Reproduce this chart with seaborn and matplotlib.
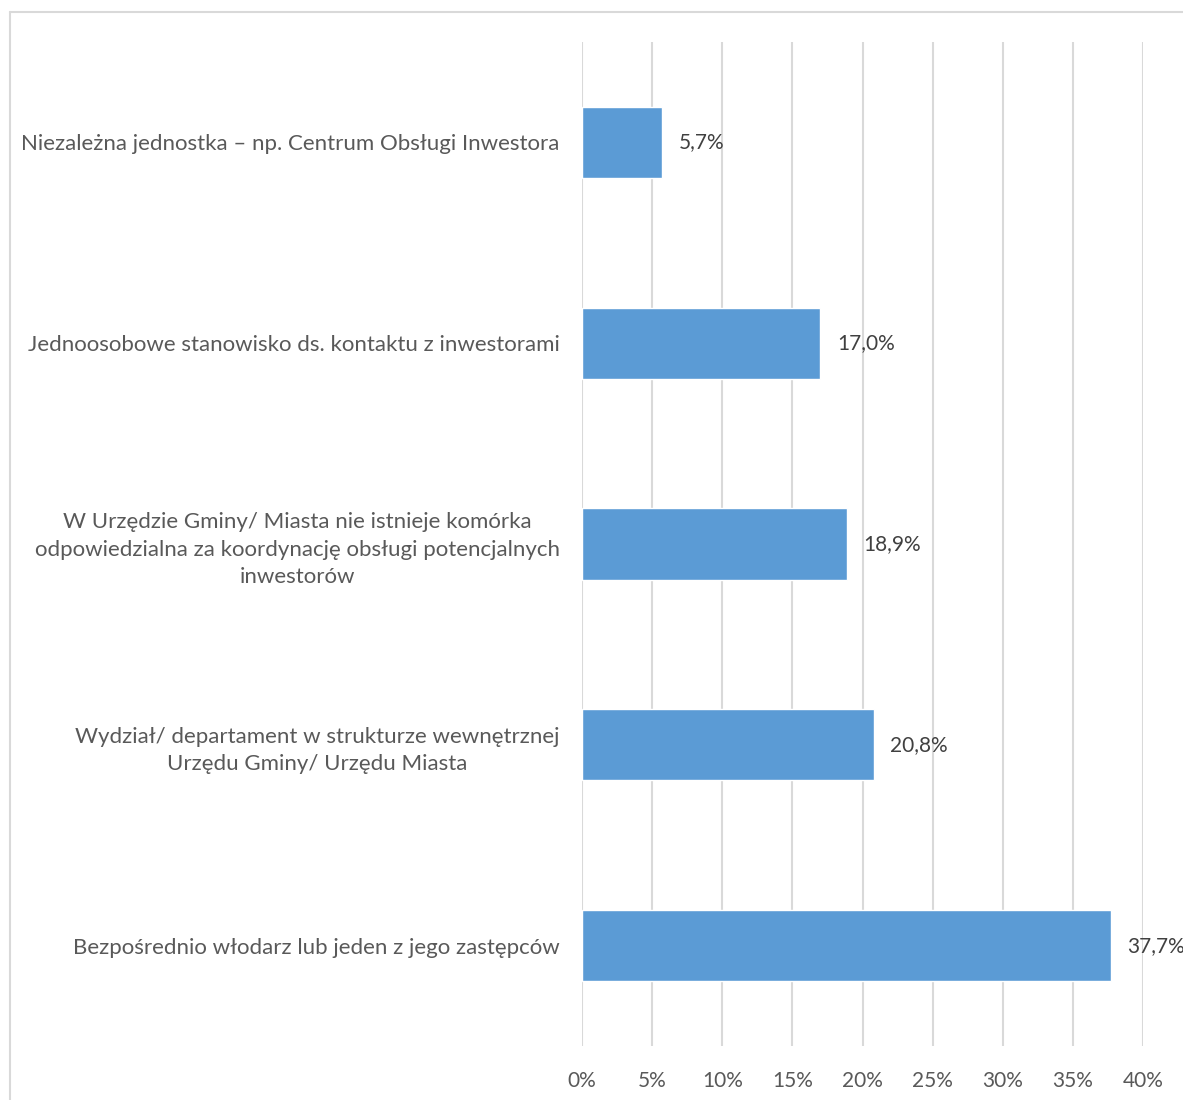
import matplotlib
matplotlib.use("Agg")
import matplotlib.pyplot as plt
from matplotlib.lines import Line2D
import seaborn as sns
import pandas as pd

categories = [
    "Niezależna jednostka – np. Centrum Obsługi Inwestora",
    "Jednoosobowe stanowisko ds. kontaktu z inwestorami",
    "W Urzędzie Gminy/ Miasta nie istnieje komórka\nodpowiedzialna za koordynację obsługi potencjalnych\ninwestorów",
    "Wydział/ departament w strukturze wewnętrznej\nUrzędu Gminy/ Urzędu Miasta",
    "Bezpośrednio włodarz lub jeden z jego zastępców",
]
values = [5.7, 17.0, 18.9, 20.8, 37.7]
x_ticks = [0, 5, 10, 15, 20, 25, 30, 35, 40]
x_tick_labels = [f"{t}%" for t in x_ticks]

df = pd.DataFrame({"kategoria": categories, "udzial": values})

sns.set_theme(style="white")
plt.rcParams["font.family"] = ["Lato", "DejaVu Sans"]

text_color = "#595959"
grid_color = "#d9d9d9"
bar_color = "#5b9bd5"

fig = plt.figure(figsize=(11.83, 11.0), dpi=100)
ax = fig.add_axes([582 / 1183, 1 - 1046 / 1100, (1143 - 582) / 1183, (1046 - 42) / 1100])

sns.barplot(data=df, x="udzial", y="kategoria", order=categories, color=bar_color,
            saturation=1, width=0.355, ax=ax, orient="h")

ax.set_xlim(0, 40)
ax.set_xticks(x_ticks)
ax.set_xticklabels(x_tick_labels)
ax.set_xlabel("")
ax.set_ylabel("")
ax.grid(axis="x", color=grid_color, linewidth=1.5)
ax.grid(axis="y", visible=False)
ax.set_axisbelow(True)
for s in ax.spines.values():
    s.set_visible(False)

ax.tick_params(axis="x", length=0, pad=18, labelsize=15, labelcolor=text_color)
ax.tick_params(axis="y", length=0, pad=16, labelsize=16, labelcolor=text_color)
for lbl in ax.get_yticklabels():
    lbl.set_multialignment("center")
    lbl.set_linespacing(1.45)

for patch, v in zip(ax.patches, values):
    y = patch.get_y() + patch.get_height() / 2
    ax.annotate(f"{v:.1f}%".replace(".", ","), xy=(v, y), xytext=(12, 0),
                textcoords="offset points", va="center", ha="left",
                fontsize=15, color="#404040", annotation_clip=False)

# chart frame
fig.add_artist(Line2D([9.5 / 1183, 9.5 / 1183], [0, 1 - 12 / 1100],
                      transform=fig.transFigure, color=grid_color, linewidth=1.5))
fig.add_artist(Line2D([9.5 / 1183, 1], [1 - 12 / 1100, 1 - 12 / 1100],
                      transform=fig.transFigure, color=grid_color, linewidth=1.5))

fig.savefig("out.png", dpi=100, facecolor="white")
